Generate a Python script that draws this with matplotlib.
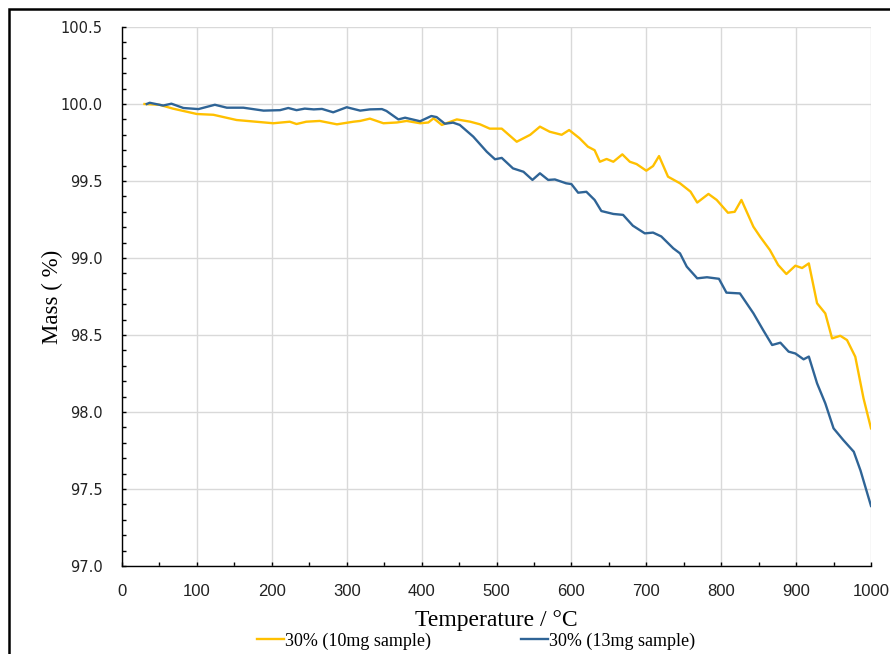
import matplotlib
matplotlib.use("Agg")
import matplotlib.pyplot as plt
from matplotlib.patches import Rectangle
from matplotlib.ticker import MultipleLocator, FormatStrFormatter

# 30% (10mg sample)
t10 = [30, 50, 68, 100, 122, 153, 202, 224, 233, 246, 264, 287, 309, 318, 331, 349, 367, 380,
       398, 409, 416, 427, 447, 465, 478, 491, 507, 527, 545, 558, 571, 587, 597, 611, 622, 631,
       638, 647, 656, 668, 678, 687, 700, 709, 717, 729, 745, 759, 768, 783, 794, 809, 818, 827,
       843, 852, 865, 876, 887, 899, 908, 917, 928, 939, 948, 959, 968, 979, 990, 1000]
m10 = [100.0, 99.995, 99.97, 99.935, 99.93, 99.896, 99.875, 99.885, 99.87, 99.885, 99.89, 99.868,
       99.885, 99.89, 99.905, 99.875, 99.88, 99.89, 99.875, 99.88, 99.907, 99.864, 99.90, 99.885,
       99.868, 99.84, 99.84, 99.755, 99.80, 99.853, 99.82, 99.80, 99.831, 99.777, 99.723, 99.70,
       99.625, 99.643, 99.625, 99.673, 99.625, 99.61, 99.567, 99.597, 99.662, 99.528, 99.485,
       99.431, 99.36, 99.416, 99.377, 99.294, 99.30, 99.377, 99.203, 99.138, 99.052, 98.955,
       98.896, 98.95, 98.935, 98.965, 98.706, 98.64, 98.478, 98.495, 98.467, 98.359, 98.089, 97.894]

# 30% (13mg sample)
t13 = [33, 37, 55, 66, 82, 102, 124, 140, 162, 189, 211, 222, 233, 244, 256, 267, 282, 300, 318,
       331, 347, 353, 369, 378, 398, 413, 420, 431, 442, 451, 469, 487, 498, 507, 522, 536, 548,
       558, 569, 578, 593, 600, 609, 620, 631, 640, 656, 669, 682, 698, 709, 720, 736, 745, 754,
       768, 781, 797, 807, 825, 843, 856, 868, 879, 890, 899, 910, 917, 928, 939, 950, 963, 977,
       986, 1000]
m13 = [100.0, 100.008, 99.99, 100.002, 99.974, 99.967, 99.995, 99.976, 99.976, 99.957, 99.96,
       99.974, 99.96, 99.97, 99.965, 99.968, 99.946, 99.979, 99.957, 99.965, 99.967, 99.955, 99.90,
       99.911, 99.888, 99.922, 99.915, 99.872, 99.879, 99.864, 99.788, 99.69, 99.641, 99.65,
       99.582, 99.56, 99.507, 99.55, 99.507, 99.51, 99.485, 99.48, 99.424, 99.43, 99.377, 99.305,
       99.286, 99.28, 99.21, 99.16, 99.165, 99.14, 99.063, 99.03, 98.944, 98.868, 98.875, 98.865,
       98.775, 98.77, 98.641, 98.532, 98.435, 98.45, 98.392, 98.38, 98.342, 98.36, 98.186, 98.056,
       97.894, 97.818, 97.742, 97.62, 97.39]

fig = plt.figure(figsize=(8.9, 6.54), dpi=100)
ax = fig.add_axes([122/890, 1 - 566/654, 749/890, 539/654])

ax.plot(t10, m10, color="#FFC000", lw=1.7, label="30% (10mg sample)", zorder=3)
ax.plot(t13, m13, color="#2F6496", lw=1.7, label="30% (13mg sample)", zorder=3)

ax.set_xlim(0, 1000)
ax.set_ylim(97.0, 100.5)
ax.xaxis.set_major_locator(MultipleLocator(100))
ax.xaxis.set_minor_locator(MultipleLocator(50))
ax.yaxis.set_major_locator(MultipleLocator(0.5))
ax.yaxis.set_minor_locator(MultipleLocator(0.1))
ax.yaxis.set_major_formatter(FormatStrFormatter("%.1f"))

ax.grid(True, which="major", color="#d9d9d9", lw=1.0, zorder=0)
ax.set_axisbelow(True)
for s in ["top", "right"]:
    ax.spines[s].set_visible(False)
for s in ["left", "bottom"]:
    ax.spines[s].set_color("black")
    ax.spines[s].set_linewidth(1.0)

ax.tick_params(which="both", direction="in", length=3, width=1, color="black")
ax.tick_params(axis="y", which="major", pad=14, labelsize=10.5, labelcolor="#222222")
ax.tick_params(axis="x", which="major", pad=13, labelsize=12, labelcolor="#222222")
for lab in ax.get_xticklabels():
    lab.set_family("Liberation Sans")

ax.set_xlabel("Temperature / °C", family="Liberation Serif", fontsize=17, labelpad=8)
ax.set_ylabel("Mass ( %)", family="Liberation Serif", fontsize=16.5, labelpad=-2)

fig.legend(loc="center", bbox_to_anchor=(476/890, 1 - 641/654), ncol=2, frameon=False,
           prop={"family": "Liberation Serif", "size": 13}, handlelength=1.5,
           handletextpad=0.05, columnspacing=5.0)

# outer chart border
fig.add_artist(Rectangle((8.5/890, -0.5), 2, 1.5 - 8.5/654, transform=fig.transFigure,
                         fill=False, edgecolor="black", lw=1.8))

fig.savefig("out.png", dpi=100)
